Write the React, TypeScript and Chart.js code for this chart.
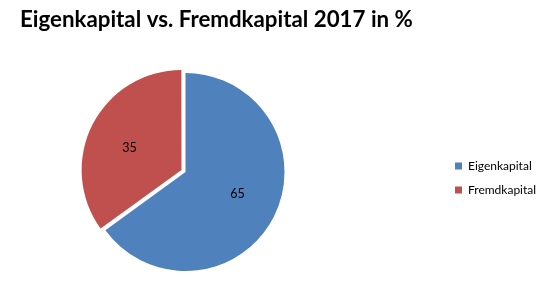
import { useEffect, useRef } from 'react';
import { Chart, registerables } from 'chart.js';

Chart.register(...registerables);

const categories = ['Eigenkapital', 'Fremdkapital'];
const values = [65, 35];
const colors = ['#4F81BD', '#C0504D'];
const sliceOffsets = [0, 18];
const titleText = 'Eigenkapital vs. Fremdkapital 2017 in %';

const FONT = 'Lato, "Open Sans", sans-serif';

const sliceLabels = {
  id: 'sliceLabels',
  afterDatasetsDraw(chart: any) {
    const ctx = chart.ctx;
    const meta = chart.getDatasetMeta(0);
    ctx.save();
    ctx.font = '12.5px ' + FONT;
    ctx.fillStyle = '#000';
    ctx.textAlign = 'center';
    ctx.textBaseline = 'middle';
    meta.data.forEach((arc: any, i: number) => {
      const p = arc.getProps(['x', 'y', 'startAngle', 'endAngle', 'outerRadius'], true);
      const mid = (p.startAngle + p.endAngle) / 2;
      const off = (sliceOffsets[i] || 0) / 4;
      const r = p.outerRadius * 0.57 + off;
      const a = mid - Math.sign(Math.sin(mid) * Math.cos(mid)) * 0.07;
      ctx.fillText(String(values[i]), p.x + Math.cos(a) * r, p.y + Math.sin(a) * r);
    });
    ctx.restore();
  },
};

const placement = {
  id: 'placement',
  afterLayout(chart: any) {
    const ca = chart.chartArea;
    ca.left = 20;
    ca.right = 351;
    ca.top = 61;
    ca.bottom = 283;
    ca.width = ca.right - ca.left;
    ca.height = ca.bottom - ca.top;
    const lg = chart.legend;
    if (lg) {
      const w = lg.width;
      const h = lg.height;
      lg.left = 443;
      lg.right = lg.left + w;
      lg.top = 160 - (h - 36) / 2;
      lg.bottom = lg.top + h;
    }
  },
};

export default function App() {
  const ref = useRef<HTMLCanvasElement>(null);
  useEffect(() => {
    if (!ref.current) return;
    const chart = new Chart(ref.current, {
      type: 'pie',
      data: {
        labels: categories,
        datasets: [
          {
            data: values,
            backgroundColor: colors,
            borderWidth: 0,
            offset: sliceOffsets,
            radius: 99,
          } as any,
        ],
      },
      options: {
        responsive: false,
        animation: false,
        devicePixelRatio: 1,
        events: [],
        layout: { padding: { left: 20, right: 0, top: 0, bottom: 0 } },
        plugins: {
          title: {
            display: true,
            text: titleText,
            align: 'start',
            color: '#000',
            font: { family: FONT, size: 22.3, weight: 'bold' },
            padding: { top: 6, bottom: 10 },
          },
          legend: {
            display: true,
            position: 'right',
            labels: {
              boxWidth: 7,
              boxHeight: 7,
              padding: 12,
              color: '#000',
              font: { family: FONT, size: 12 },
            },
          },
          tooltip: { enabled: false },
        },
      },
      plugins: [placement, sliceLabels],
    });
    return () => chart.destroy();
  }, []);
  return (
    <div style={{ position: 'fixed', left: 0, top: 0, width: 547, height: 283, background: '#fff' }}>
      <canvas ref={ref} width={547} height={283} style={{ display: 'block' }} />
    </div>
  );
}
